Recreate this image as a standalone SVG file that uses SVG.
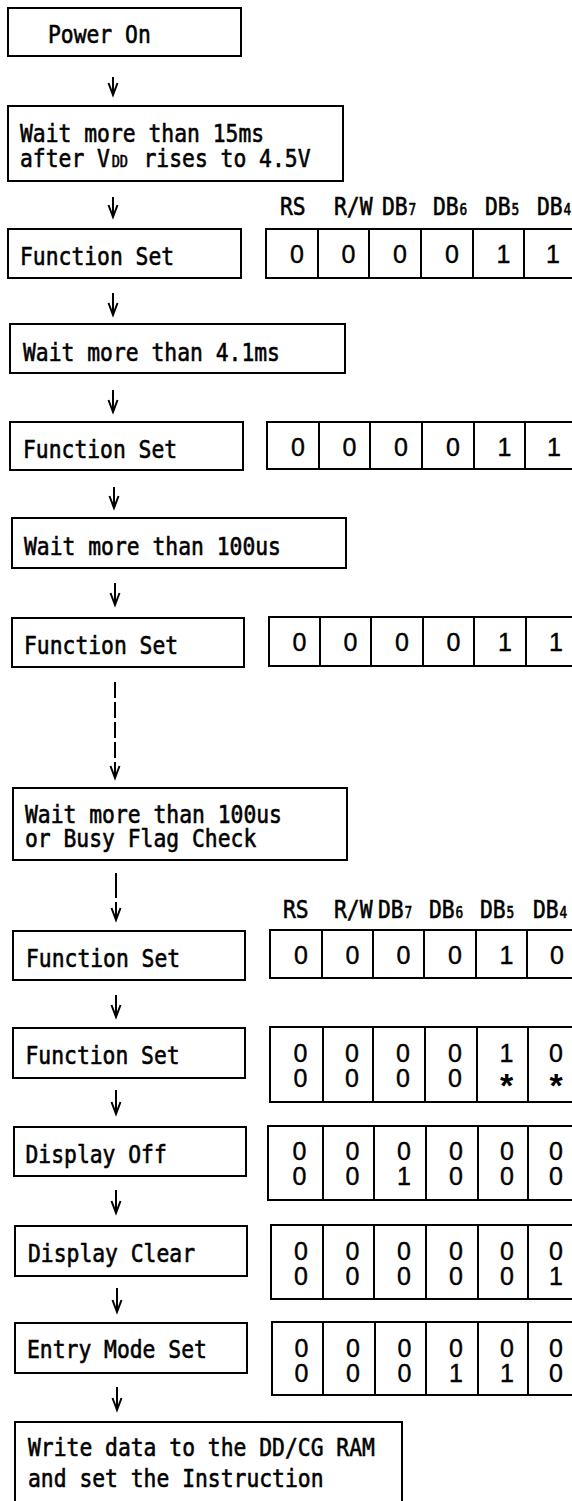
<svg xmlns="http://www.w3.org/2000/svg" width="572" height="1501" viewBox="0 0 572 1501">
<style>
.box{fill:none;stroke:#000;stroke-width:2}
.t{font-family:"DejaVu Sans Mono","Liberation Mono",monospace;font-size:25px;fill:#000;stroke:#000;stroke-width:0.6}
.sub{font-size:15px}
.dd{font-size:16px}
.d{font-family:"Liberation Sans",Arial,sans-serif;font-size:25px;fill:#000;text-anchor:middle;stroke:#000;stroke-width:0.4}
.ast{font-family:"Liberation Sans",Arial,sans-serif;font-size:34px;font-weight:bold;fill:#000;text-anchor:middle}
.conn{fill:none;stroke:#000;stroke-width:2;marker-end:url(#ah)}
.dash{stroke-dasharray:16 4}
.dash2{stroke-dasharray:25 4}
</style>
<defs>
<marker id="ah" viewBox="0 0 12 10" refX="12" refY="5" markerWidth="12" markerHeight="10" markerUnits="userSpaceOnUse" orient="auto" overflow="visible">
<path d="M0,0.5 L12,5 L0,9.5" fill="none" stroke="#000" stroke-width="2" stroke-dasharray="none"/>
</marker>
</defs>
<rect x="0" y="0" width="572" height="1501" fill="#fff"/>

<g id="connectors">
<path class="conn" d="M113,77 V95"/>
<path class="conn" d="M113,197 V217"/>
<path class="conn" d="M113,293 V315"/>
<path class="conn" d="M113,390 V412"/>
<path class="conn" d="M114,487 V508"/>
<path class="conn" d="M115,583 V605"/>
<path class="conn dash" d="M115,682 V778"/>
<path class="conn dash2" d="M116,873 V920"/>
<path class="conn" d="M116,995 V1017"/>
<path class="conn" d="M116,1090 V1114"/>
<path class="conn" d="M116,1190 V1213"/>
<path class="conn" d="M117,1288 V1312"/>
<path class="conn" d="M117,1387 V1410"/>
</g>

<g id="power-on">
<rect class="box" x="8" y="8" width="233" height="48"/>
<text class="t" transform="scale(0.854 1)" x="56.2" y="43">Power On</text>
</g>
<g id="wait-15ms">
<rect class="box" x="8" y="106" width="335" height="75"/>
<text class="t" transform="scale(0.854 1)"><tspan x="23.42" y="142">Wait more than 15ms</tspan><tspan x="23.42" y="167">after V<tspan class="dd" dx="2">DD</tspan><tspan dx="3"> rises to 4.5V</tspan></tspan></text>
</g>
<g id="function-set-1">
<rect class="box" x="8" y="229" width="233" height="49"/>
<text class="t" transform="scale(0.854 1)" x="23.42" y="265">Function Set</text>
</g>
<g id="wait-4-1ms">
<rect class="box" x="10" y="324" width="335" height="49"/>
<text class="t" transform="scale(0.854 1)" x="26.93" y="361">Wait more than 4.1ms</text>
</g>
<g id="function-set-2">
<rect class="box" x="10" y="422" width="233" height="48"/>
<text class="t" transform="scale(0.854 1)" x="26.93" y="458">Function Set</text>
</g>
<g id="wait-100us">
<rect class="box" x="12" y="518" width="334" height="50"/>
<text class="t" transform="scale(0.854 1)" x="28.1" y="555">Wait more than 100us</text>
</g>
<g id="function-set-3">
<rect class="box" x="12" y="618" width="232" height="49"/>
<text class="t" transform="scale(0.854 1)" x="28.1" y="654">Function Set</text>
</g>
<g id="wait-busy">
<rect class="box" x="13" y="788" width="334" height="72"/>
<text class="t" transform="scale(0.854 1)"><tspan x="29.27" y="823">Wait more than 100us</tspan><tspan x="29.27" y="847">or Busy Flag Check</tspan></text>
</g>
<g id="function-set-4">
<rect class="box" x="13" y="931" width="232" height="49"/>
<text class="t" transform="scale(0.854 1)" x="30.44" y="967">Function Set</text>
</g>
<g id="function-set-5">
<rect class="box" x="13" y="1028" width="232" height="50"/>
<text class="t" transform="scale(0.854 1)" x="29.86" y="1064">Function Set</text>
</g>
<g id="display-off">
<rect class="box" x="14" y="1127" width="232" height="49"/>
<text class="t" transform="scale(0.854 1)" x="29.86" y="1163">Display Off</text>
</g>
<g id="display-clear">
<rect class="box" x="15" y="1226" width="232" height="50"/>
<text class="t" transform="scale(0.854 1)" x="32.79" y="1262">Display Clear</text>
</g>
<g id="entry-mode-set">
<rect class="box" x="15" y="1323" width="232" height="50"/>
<text class="t" transform="scale(0.854 1)" x="31.62" y="1358">Entry Mode Set</text>
</g>
<g id="write-data">
<rect class="box" x="15" y="1422" width="387" height="92"/>
<text class="t" transform="scale(0.854 1)"><tspan x="32.79" y="1456">Write data to the DD/CG RAM</tspan><tspan x="32.79" y="1487">and set the Instruction</tspan></text>
</g>

<g id="header-1" class="t" transform="scale(0.854 1)">
<text x="327.9" y="215">RS</text>
<text x="391.1" y="215">R/W</text>
<text x="447.3" y="215">DB<tspan class="sub" dx="1">7</tspan></text>
<text x="507.0" y="215">DB<tspan class="sub" dx="1">6</tspan></text>
<text x="567.9" y="215">DB<tspan class="sub" dx="1">5</tspan></text>
<text x="628.8" y="215">DB<tspan class="sub" dx="1">4</tspan></text>
</g>
<g id="header-2" class="t" transform="scale(0.854 1)">
<text x="331.4" y="918">RS</text>
<text x="391.1" y="918">R/W</text>
<text x="442.6" y="918">DB<tspan class="sub" dx="1">7</tspan></text>
<text x="502.3" y="918">DB<tspan class="sub" dx="1">6</tspan></text>
<text x="562.1" y="918">DB<tspan class="sub" dx="1">5</tspan></text>
<text x="624.1" y="918">DB<tspan class="sub" dx="1">4</tspan></text>
</g>

<g id="table-1">
<rect class="box" x="266" y="229" width="312" height="49"/>
<path class="box" d="M318,229V278M369,229V278M421,229V278M473,229V278M524,229V278"/>
<text class="d" x="297" y="263">0</text><text class="d" x="348.5" y="263">0</text><text class="d" x="400" y="263">0</text><text class="d" x="452" y="263">0</text><text class="d" x="503.5" y="263">1</text><text class="d" x="553" y="263">1</text>
</g>
<g id="table-2">
<rect class="box" x="267" y="422" width="312" height="47"/>
<path class="box" d="M319,422V469M370,422V469M422,422V469M474,422V469M525,422V469"/>
<text class="d" x="298" y="456">0</text><text class="d" x="349.5" y="456">0</text><text class="d" x="401" y="456">0</text><text class="d" x="453" y="456">0</text><text class="d" x="504.5" y="456">1</text><text class="d" x="554" y="456">1</text>
</g>
<g id="table-3">
<rect class="box" x="269" y="617" width="312" height="49"/>
<path class="box" d="M320,617V666M371,617V666M423,617V666M474,617V666M526,617V666"/>
<text class="d" x="299.5" y="651">0</text><text class="d" x="350.5" y="651">0</text><text class="d" x="402" y="651">0</text><text class="d" x="453.5" y="651">0</text><text class="d" x="505" y="651">1</text><text class="d" x="556" y="651">1</text>
</g>
<g id="table-4">
<rect class="box" x="270" y="930" width="312" height="48"/>
<path class="box" d="M322,930V978M373,930V978M424,930V978M476,930V978M527,930V978"/>
<text class="d" x="301" y="964">0</text><text class="d" x="352.5" y="964">0</text><text class="d" x="403.5" y="964">0</text><text class="d" x="455" y="964">0</text><text class="d" x="506.5" y="964">1</text><text class="d" x="557" y="964">0</text>
</g>
<g id="table-5">
<rect class="box" x="270" y="1027" width="312" height="75"/>
<path class="box" d="M323,1027V1102M373,1027V1102M425,1027V1102M477,1027V1102M528,1027V1102"/>
<text class="d" x="300.5" y="1062">0</text><text class="d" x="352" y="1062">0</text><text class="d" x="403" y="1062">0</text><text class="d" x="455" y="1062">0</text><text class="d" x="506.5" y="1062">1</text><text class="d" x="556" y="1062">0</text>
<text class="d" x="300.5" y="1087">0</text><text class="d" x="352" y="1087">0</text><text class="d" x="403" y="1087">0</text><text class="d" x="455" y="1087">0</text><text class="ast" x="506.5" y="1097">*</text><text class="ast" x="556" y="1097">*</text>
</g>
<g id="table-6">
<rect class="box" x="268" y="1126" width="312" height="74"/>
<path class="box" d="M323,1126V1200M374,1126V1200M426,1126V1200M478,1126V1200M528,1126V1200"/>
<text class="d" x="299.5" y="1160">0</text><text class="d" x="352.5" y="1160">0</text><text class="d" x="404" y="1160">0</text><text class="d" x="456" y="1160">0</text><text class="d" x="507" y="1160">0</text><text class="d" x="556" y="1160">0</text>
<text class="d" x="299.5" y="1185">0</text><text class="d" x="352.5" y="1185">0</text><text class="d" x="404" y="1185">1</text><text class="d" x="456" y="1185">0</text><text class="d" x="507" y="1185">0</text><text class="d" x="556" y="1185">0</text>
</g>
<g id="table-7">
<rect class="box" x="271" y="1225" width="312" height="74"/>
<path class="box" d="M323,1225V1299M374,1225V1299M426,1225V1299M478,1225V1299M528,1225V1299"/>
<text class="d" x="301" y="1260">0</text><text class="d" x="352.5" y="1260">0</text><text class="d" x="404" y="1260">0</text><text class="d" x="456" y="1260">0</text><text class="d" x="507" y="1260">0</text><text class="d" x="556" y="1260">0</text>
<text class="d" x="301" y="1285">0</text><text class="d" x="352.5" y="1285">0</text><text class="d" x="404" y="1285">0</text><text class="d" x="456" y="1285">0</text><text class="d" x="507" y="1285">0</text><text class="d" x="556" y="1285">1</text>
</g>
<g id="table-8">
<rect class="box" x="272" y="1322" width="312" height="73"/>
<path class="box" d="M323,1322V1395M375,1322V1395M426,1322V1395M478,1322V1395M528,1322V1395"/>
<text class="d" x="301.5" y="1357">0</text><text class="d" x="353" y="1357">0</text><text class="d" x="404.5" y="1357">0</text><text class="d" x="456" y="1357">0</text><text class="d" x="507" y="1357">0</text><text class="d" x="556" y="1357">0</text>
<text class="d" x="301.5" y="1382">0</text><text class="d" x="353" y="1382">0</text><text class="d" x="404.5" y="1382">0</text><text class="d" x="456" y="1382">1</text><text class="d" x="507" y="1382">1</text><text class="d" x="556" y="1382">0</text>
</g>
</svg>
